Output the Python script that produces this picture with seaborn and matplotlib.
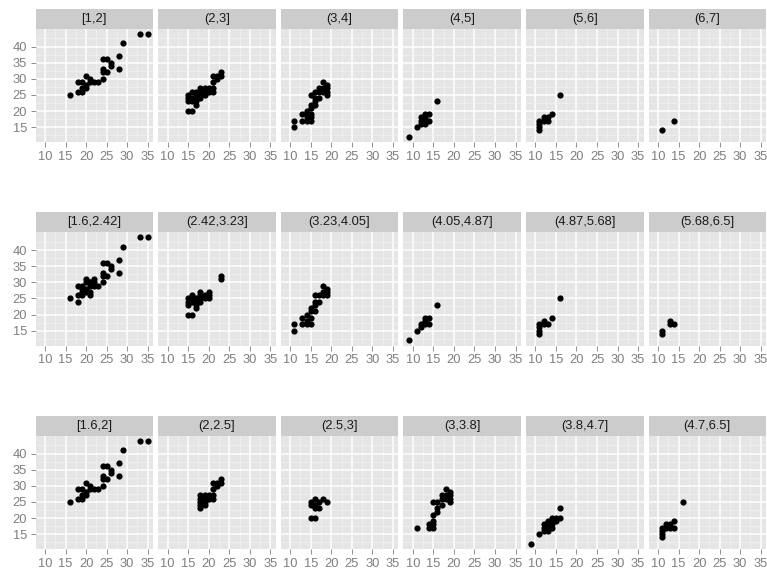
import matplotlib
matplotlib.use("Agg")
import matplotlib.pyplot as plt
from matplotlib.patches import Rectangle
from matplotlib.transforms import Bbox, TransformedBbox
import seaborn as sns
import pandas as pd

# ---------------- data (cty, hwy) per facet ----------------
row1_labels = ["[1,2]", "(2,3]", "(3,4]", "(4,5]", "(5,6]", "(6,7]"]
row2_labels = ["[1.6,2.42]", "(2.42,3.23]", "(3.23,4.05]", "(4.05,4.87]", "(4.87,5.68]", "(5.68,6.5]"]
row3_labels = ["[1.6,2]", "(2,2.5]", "(2.5,3]", "(3,3.8]", "(3.8,4.7]", "(4.7,6.5]"]

small_cty = [16, 18, 18, 19, 19, 19, 20, 20, 20, 21, 21, 22, 23, 24, 24, 24, 24, 25, 25, 26, 26, 28, 28, 29, 33, 35]
small_hwy = [25, 26, 29, 26, 27, 29, 27, 28, 31, 29, 30, 29, 29, 30, 32, 33, 36, 32, 36, 34, 35, 33, 37, 41, 44, 44]

row1_cty = [
    small_cty,
    [15, 16, 15, 15, 16, 16, 16, 17, 17, 17, 17, 18, 18, 18, 18, 19, 19, 19, 20, 20, 21, 21, 21, 21, 22, 22, 23, 23, 15, 17],
    [11, 11, 13, 13, 14, 14, 14, 14, 15, 15, 15, 15, 15, 15, 16, 16, 16, 17, 17, 17, 18, 18, 18, 19, 19, 19, 19, 16],
    [9, 11, 12, 12, 12, 13, 13, 13, 13, 14, 14, 16],
    [11, 11, 11, 11, 12, 12, 13, 13, 14, 16],
    [11, 14],
]
row1_hwy = [
    small_hwy,
    [20, 20, 24, 25, 24, 26, 23, 22, 23, 25, 26, 24, 25, 26, 27, 25, 26, 27, 26, 27, 26, 27, 29, 31, 30, 31, 31, 32, 23, 24],
    [15, 17, 17, 19, 17, 18, 19, 20, 17, 18, 19, 21, 22, 25, 22, 24, 26, 24, 26, 27, 26, 27, 29, 25, 26, 27, 28, 23],
    [12, 15, 16, 17, 18, 16, 17, 18, 19, 17, 19, 23],
    [14, 15, 16, 17, 17, 18, 17, 18, 19, 25],
    [14, 17],
]

row2_cty = [
    small_cty + [20, 21, 22, 18, 21, 21, 22, 19],
    [15, 16, 15, 15, 16, 16, 16, 17, 17, 17, 18, 18, 18, 18, 19, 19, 20, 20, 20, 23, 23, 17, 15],
    [11, 11, 13, 13, 14, 14, 14, 15, 15, 15, 15, 16, 16, 16, 17, 17, 18, 18, 18, 19, 19, 19, 16],
    [9, 11, 12, 12, 13, 13, 13, 14, 14, 16],
    [11, 11, 11, 11, 12, 12, 13, 14, 16],
    [11, 11, 13, 13, 14],
]
row2_hwy = [
    small_hwy + [30, 30, 30, 24, 26, 27, 31, 28],
    [20, 20, 24, 25, 24, 25, 26, 22, 24, 25, 24, 25, 26, 27, 25, 26, 25, 26, 27, 31, 32, 23, 23],
    [15, 17, 17, 19, 17, 18, 20, 17, 19, 21, 22, 21, 23, 24, 24, 26, 26, 27, 29, 26, 27, 28, 26],
    [12, 15, 16, 17, 17, 18, 19, 17, 19, 23],
    [14, 15, 16, 17, 17, 18, 17, 19, 25],
    [14, 15, 17, 18, 17],
]

row3_cty = [
    small_cty,
    [18, 18, 18, 18, 18, 19, 19, 19, 20, 20, 21, 21, 21, 21, 22, 22, 23, 23, 19],
    [15, 16, 15, 15, 16, 16, 17, 17, 18, 19, 16],
    [11, 14, 14, 15, 15, 15, 15, 16, 16, 15, 16, 17, 17, 18, 18, 18, 19, 19, 19, 19, 17],
    [9, 11, 12, 12, 12, 13, 13, 13, 14, 14, 14, 14, 15, 15, 16, 16, 13],
    [11, 11, 11, 11, 12, 12, 13, 13, 14, 14, 16],
]
row3_hwy = [
    small_hwy,
    [23, 24, 25, 26, 27, 25, 26, 27, 26, 27, 26, 27, 29, 31, 30, 31, 31, 32, 24],
    [20, 20, 24, 25, 24, 26, 23, 25, 26, 25, 23],
    [17, 17, 18, 17, 18, 19, 21, 22, 23, 25, 25, 24, 26, 26, 27, 29, 25, 26, 27, 28, 27],
    [12, 15, 16, 17, 18, 17, 18, 19, 17, 18, 19, 20, 19, 20, 20, 23, 16],
    [14, 15, 16, 17, 17, 18, 17, 18, 19, 17, 25],
]

rows = [(row1_labels, row1_cty, row1_hwy),
        (row2_labels, row2_cty, row2_hwy),
        (row3_labels, row3_cty, row3_hwy)]

records = []
for r, (labels, ctys, hwys) in enumerate(rows):
    for lab, cs, hs in zip(labels, ctys, hwys):
        for c, h in zip(cs, hs):
            records.append({"row": r, "panel": lab, "cty": c, "hwy": h})
df = pd.DataFrame(records)

# ---------------- figure ----------------
sns.set_theme(style="white")
plt.rcParams["font.family"] = ["Liberation Sans", "DejaVu Sans"]

W, H = 767, 570
fig = plt.figure(figsize=(W / 100, H / 100), dpi=100)

col_left0 = 35.5
col_step = 122.6
panel_w = 117.6
row_tops = [28.5, 232, 435.5]
panel_h = 113.5
strip_h = 19.5

grey_bg = "#E5E5E5"
tick_grey = "#7F7F7F"

for r, (labels, _, _) in enumerate(rows):
    for c, lab in enumerate(labels):
        left = col_left0 + c * col_step
        top = row_tops[r]
        ax = fig.add_axes([left / W, 1 - (top + panel_h) / H, panel_w / W, panel_h / H])
        ax.set_facecolor(grey_bg)
        sub = df[(df["row"] == r) & (df["panel"] == lab)]
        sns.scatterplot(data=sub, x="cty", y="hwy", ax=ax, color="black",
                        s=20, linewidth=0, zorder=3, legend=False)
        ax.set_xlim(7.7, 36.3)
        ax.set_ylim(10.4, 45.6)
        ax.set_xticks([10, 15, 20, 25, 30, 35])
        ax.set_yticks([15, 20, 25, 30, 35, 40])
        ax.set_xticks([12.5, 17.5, 22.5, 27.5, 32.5], minor=True)
        ax.set_yticks([12.5, 17.5, 22.5, 27.5, 32.5, 37.5, 42.5], minor=True)
        ax.grid(True, which="major", color="white", linewidth=1.1, zorder=1)
        ax.grid(True, which="minor", color="#F2F2F2", linewidth=0.5, zorder=1)
        ax.set_axisbelow(True)
        for s in ax.spines.values():
            s.set_visible(False)
        ax.tick_params(axis="both", which="major", length=3.6, width=0.6,
                       color=tick_grey, labelcolor=tick_grey, labelsize=9.3, pad=2.6,
                       bottom=True, left=(c == 0))
        ax.tick_params(axis="both", which="minor", length=0)
        if c != 0:
            ax.set_yticklabels([])
        ax.set_xlabel("")
        ax.set_ylabel("")
        # clip x tick labels at the gap between facet columns
        clip = TransformedBbox(Bbox([[(left - 2.4) / W, 0], [(left + panel_w + 2.4) / W, 1]]),
                               fig.transFigure)
        for t in ax.get_xticklabels():
            t.set_clip_box(clip)
            t.set_clip_on(True)
        # facet strip
        sh = strip_h / panel_h
        ax.add_patch(Rectangle((0, 1), 1, sh, transform=ax.transAxes,
                               facecolor="#CCCCCC", edgecolor="none", clip_on=False))
        ax.text(0.5, 1 + sh / 2, lab, transform=ax.transAxes, ha="center",
                va="center", fontsize=9.3, color="#1A1A1A")

fig.savefig("out.png", dpi=100)
